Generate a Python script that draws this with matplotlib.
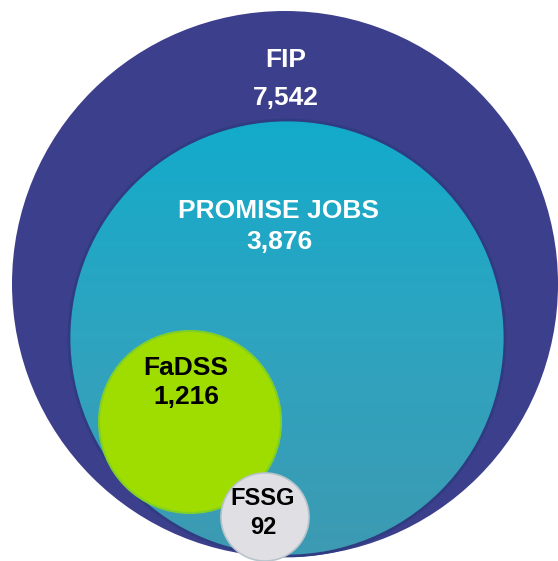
import numpy as np
import matplotlib.pyplot as plt
from matplotlib.patches import Circle
from matplotlib.colors import LinearSegmentedColormap

# Datos
programas = ['FIP', 'PROMISE JOBS', 'FaDSS', 'FSSG']
valores = [7542, 3876, 1216, 92]

# Disposicion de los circulos (pixeles de la imagen)
centros = [(285, 284), (287, 338), (190, 422), (265, 517)]
radios = [273, 218, 91, 44]
colores = ['#3c3f8b', '#1eaac8', '#9fdc00', '#e0e0e4']
color_texto = ['white', 'white', 'black', 'black']
pos_texto = [(286, 60, 98), (279, 211, 242), (186, 368, 397), (263, 498, 527)]
tam_texto = [19, 19, 19, 17]

plt.rcParams['font.family'] = ['Liberation Sans', 'DejaVu Sans']

fig = plt.figure(figsize=(5.58, 5.61), dpi=100)
ax = fig.add_axes([0, 0, 1, 1])

for i in range(len(programas)):
    c = Circle(centros[i], radios[i], facecolor=colores[i], edgecolor='none', zorder=i + 1)
    ax.add_patch(c)
    if i == 1:
        # degradado del circulo azul claro
        cmap = LinearSegmentedColormap.from_list('az', ['#13abcb', '#2ea4c0', '#3d9ab2'])
        grad = np.linspace(0, 1, 256).reshape(-1, 1)
        cx, cy = centros[i]
        r = radios[i]
        im = ax.imshow(grad, cmap=cmap, extent=(cx - r, cx + r, cy + r, cy - r),
                       aspect='auto', zorder=i + 1.5)
        im.set_clip_path(c)
        ax.add_patch(Circle(centros[i], radios[i], facecolor='none',
                            edgecolor='#2f3c82', lw=2, zorder=i + 1.6))
    if i == 2:
        ax.add_patch(Circle(centros[i], radios[i], facecolor='none',
                            edgecolor='#7fcf2a', lw=1.5, zorder=i + 1.6))
    if i == 3:
        ax.add_patch(Circle(centros[i], radios[i], facecolor='none',
                            edgecolor='#b8c4cc', lw=1.2, zorder=i + 1.6))

    x, y1, y2 = pos_texto[i]
    ax.text(x, y1, programas[i], ha='center', va='center', fontsize=tam_texto[i],
            fontweight='bold', color=color_texto[i], zorder=10)
    ax.text(x, y2, f'{valores[i]:,}', ha='center', va='center', fontsize=tam_texto[i],
            fontweight='bold', color=color_texto[i], zorder=10)

ax.set_xlim(0, 558)
ax.set_ylim(561, 0)
ax.set_aspect('equal')
ax.axis('off')

fig.savefig('out.png', dpi=100)
